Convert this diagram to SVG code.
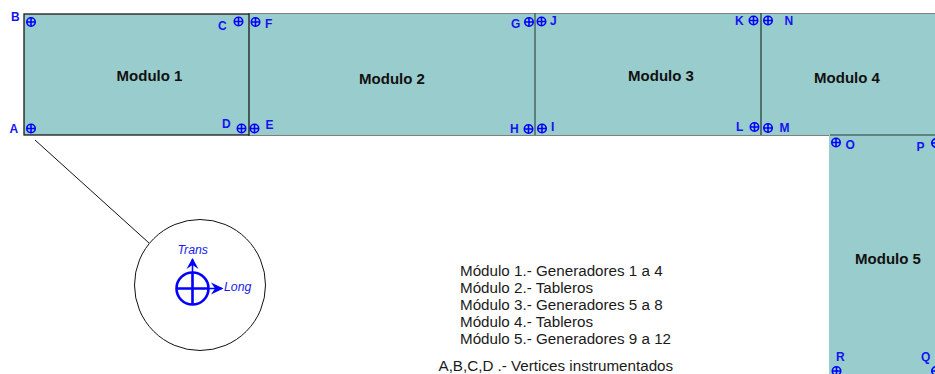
<svg xmlns="http://www.w3.org/2000/svg" width="935" height="374" viewBox="0 0 935 374">
<style>
.m{fill:#99cccc}
.e{fill:none;stroke:#1a1a1a;stroke-width:1.3}
.g{fill:none;stroke:#7f7f7f;stroke-width:1}
text{font-family:"Liberation Sans",Arial,sans-serif}
.t{font-size:15px;font-weight:bold;fill:#111;text-anchor:middle}
.l{font-size:12px;font-weight:bold;fill:#1414f0}
.n{font-size:15.200px;fill:#1a1a1a}
.i{font-size:12.300px;font-style:italic;fill:#1a1af0}
.s{fill:none;stroke:#0000ff;stroke-width:1.600}
.b{fill:none;stroke:#0000ff;stroke-width:2.600}
</style>
<defs>
<g id="sensor"><circle class="s" r="4.200"/><path class="s" d="M-4.200 0H4.200M0-4.200V4.200"/></g>
</defs>
<g id="modulo-2"><rect class="m" x="248" y="13" width="287" height="122"/><path class="g" d="M248 13.500H535M248 135.500H535"/><text class="t" x="392" y="84">Modulo 2</text>
<use href="#sensor" x="255.500" y="22"/><text class="l" x="265" y="27.500">F</text>
<use href="#sensor" x="254.500" y="128.500"/><text class="l" x="265.500" y="129">E</text>
<use href="#sensor" x="529" y="22"/><text class="l" x="511" y="27.500">G</text>
<use href="#sensor" x="528.500" y="129"/><text class="l" x="510" y="133">H</text></g>
<g id="modulo-3"><rect class="m" x="535" y="13" width="226" height="122"/><path class="g" d="M535 13.500H761M535 135.500H761"/><text class="t" x="661" y="81">Modulo 3</text>
<use href="#sensor" x="541.500" y="21.500"/><text class="l" x="550" y="25">J</text>
<use href="#sensor" x="542" y="128.500"/><text class="l" x="551" y="131">I</text>
<use href="#sensor" x="753.500" y="20.500"/><text class="l" x="735" y="25">K</text>
<use href="#sensor" x="754.500" y="127"/><text class="l" x="736" y="131">L</text></g>
<g id="modulo-4"><rect class="m" x="761" y="13" width="174" height="122"/><path class="g" d="M761 13.500H935M761 135.500H935"/><text class="t" x="847" y="83">Modulo 4</text>
<use href="#sensor" x="768" y="20.500"/><text class="l" x="784.500" y="25">N</text>
<use href="#sensor" x="768" y="128"/><text class="l" x="779.500" y="132">M</text></g>
<g id="modulo-5"><rect class="m" x="829" y="135" width="106" height="239"/><path d="M830 135H935" fill="none" stroke="#4d6b6b" stroke-width="1.600"/><text class="t" x="888" y="264">Modulo 5</text>
<use href="#sensor" x="836" y="142.500"/><text class="l" x="845.500" y="149">O</text>
<use href="#sensor" x="936" y="143"/><text class="l" x="916.500" y="151">P</text>
<use href="#sensor" x="836.500" y="371"/><text class="l" x="836" y="361">R</text>
<use href="#sensor" x="936" y="371"/><text class="l" x="921" y="361">Q</text></g>
<g id="modulo-1"><rect class="m" x="24" y="14" width="225" height="121"/><rect class="e" x="24" y="14" width="225" height="121"/><text class="t" x="149.500" y="81">Modulo 1</text>
<use href="#sensor" x="31" y="22"/><text class="l" x="11" y="20.500">B</text>
<use href="#sensor" x="31" y="128.500"/><text class="l" x="9.500" y="133">A</text>
<use href="#sensor" x="238.500" y="21.500"/><text class="l" x="218" y="30">C</text>
<use href="#sensor" x="241.500" y="128.500"/><text class="l" x="222" y="128">D</text></g>
<g id="bordes"><path d="M535 13V135" fill="none" stroke="#4d6666" stroke-width="1.500"/><path d="M761 13V135" fill="none" stroke="#2f4040" stroke-width="1.300"/></g>
<g id="conectores"><path d="M35 140L149 243" fill="none" stroke="#111" stroke-width="1"/></g>
<g id="detalle"><circle cx="200" cy="285" r="65.500" fill="#fff" stroke="#111" stroke-width="1"/>
<circle class="b" cx="192.500" cy="288.500" r="16"/><path class="b" d="M176.500 288.500H208.500M192.500 272.500V304.500"/>
<path class="s" d="M192.500 272V259M208 288.500H222"/>
<path d="M192.500 258L198.500 269L192.500 265L186.500 269Z" fill="#0000ff"/>
<path d="M223.500 288.500L211 282.500L215 288.500L211 294.500Z" fill="#0000ff"/>
<text class="i" x="177.500" y="254">Trans</text><text class="i" x="224" y="291">Long</text></g>
<g id="leyenda">
<text class="n" x="460" y="276">Módulo 1.- Generadores 1 a 4</text>
<text class="n" x="460" y="293">Módulo 2.- Tableros</text>
<text class="n" x="460" y="309.500">Módulo 3.- Generadores 5 a 8</text>
<text class="n" x="460" y="327">Módulo 4.- Tableros</text>
<text class="n" x="460" y="343.500">Módulo 5.- Generadores 9 a 12</text>
<text class="n" x="438.500" y="371">A,B,C,D .- Vertices instrumentados</text></g>
</svg>
